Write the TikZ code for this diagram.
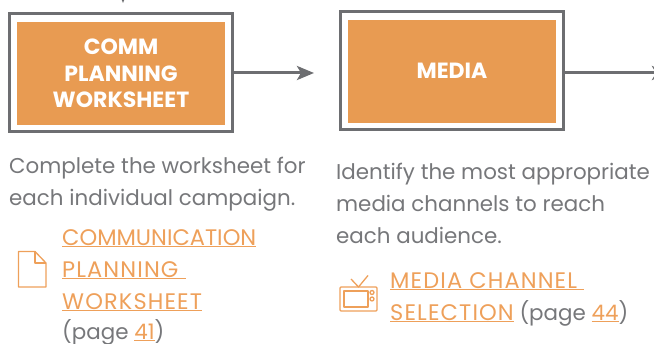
\documentclass[tikz,border=0pt]{standalone}
\usepackage{fontspec}
\setmainfont{Poppins}
\usetikzlibrary{arrows.meta}
\definecolor{boxorange}{RGB}{232,155,82}
\definecolor{linkorange}{RGB}{238,160,90}
\definecolor{framegray}{RGB}{109,110,113}
\definecolor{bodygray}{RGB}{118,119,122}
\newcommand{\lnk}[1]{\textcolor{linkorange}{\underline{#1}}}
\newcommand{\capsA}{\fontsize{22.5}{32}\selectfont}
\newcommand{\capsB}{\fontsize{22.5}{32}\selectfont\addfontfeatures{LetterSpace=5}}

\tikzset{
  framebox/.style={draw=framegray, line width=3pt, minimum width=223pt, minimum height=118pt, inner sep=0pt},
  fillbox/.style={fill=boxorange, text=white, minimum width=208pt, minimum height=103pt, inner sep=0pt,
    align=center, font=\fontsize{22}{26.5}\selectfont\bfseries},
  flow/.style={-{Stealth[length=17pt,width=14pt,inset=4pt]}, draw=framegray, line width=3pt},
  body/.style={anchor=north west, inner sep=0pt, align=left, text=bodygray, font=\fontsize{21.4}{32}\selectfont},
  icon/.style={draw=linkorange, line width=1.3pt, line join=round}
}

\begin{document}
\begin{tikzpicture}[x=1pt,y=-1pt]
\clip (0,0) rectangle (654,344);
\node[framebox] (commframe) at (120.5,73) {};
\node[fillbox] (comm) at (121,73.5) {COMM\\PLANNING\\WORKSHEET};
\node[framebox] (mediaframe) at (451.5,71) {};
\node[fillbox] (media) at (452,71.5) {\raisebox{1pt}{MEDIA}};

% arrows
\coordinate (topin) at (123,-30);
\coordinate (topout) at (123,3);
\coordinate (commout) at (314,73);
\coordinate (mediaout) at (669,73);
\draw[flow] (topin) -- (topout);
\draw[flow] (commframe.east |- commout) -- (commout);
\draw[flow] (mediaframe.east |- mediaout) -- (mediaout);

% left column
\node[body] (commtext) at (9,157) {Complete the worksheet for\\each individual campaign.};
\node[body] (commlink) at (62,229) {\lnk{\capsA COMMUNICATION}\\\lnk{\capsB PLANNING\ }\\\lnk{\capsB WORKSHEET}\\[-2pt](page \lnk{41})};
\draw[icon] (18.5,251.5) -- (35,251.5) -- (46,263) -- (46,287) -- (18.5,287) -- cycle;
\draw[icon] (35,251.5) -- (35,263) -- (46,263);

% right column
\node[body] (mediatext) at (336,163) {Identify the most appropriate\\media channels to reach\\each audience.};
\node[body] (medialink) at (390,272) {\lnk{\capsB MEDIA CHANNEL\ }\\\lnk{\capsB SELECTION} (page \lnk{44})};
\draw[icon,rounded corners=1pt] (340,287) rectangle (377,311);
\draw[icon] (344,291) rectangle (368,307);
\draw[icon] (372,292.5) circle (2pt);
\draw[icon] (372,299) circle (2pt);
\draw[icon] (351,279) -- (358.5,287) -- (368,275.5);
\end{tikzpicture}
\end{document}
